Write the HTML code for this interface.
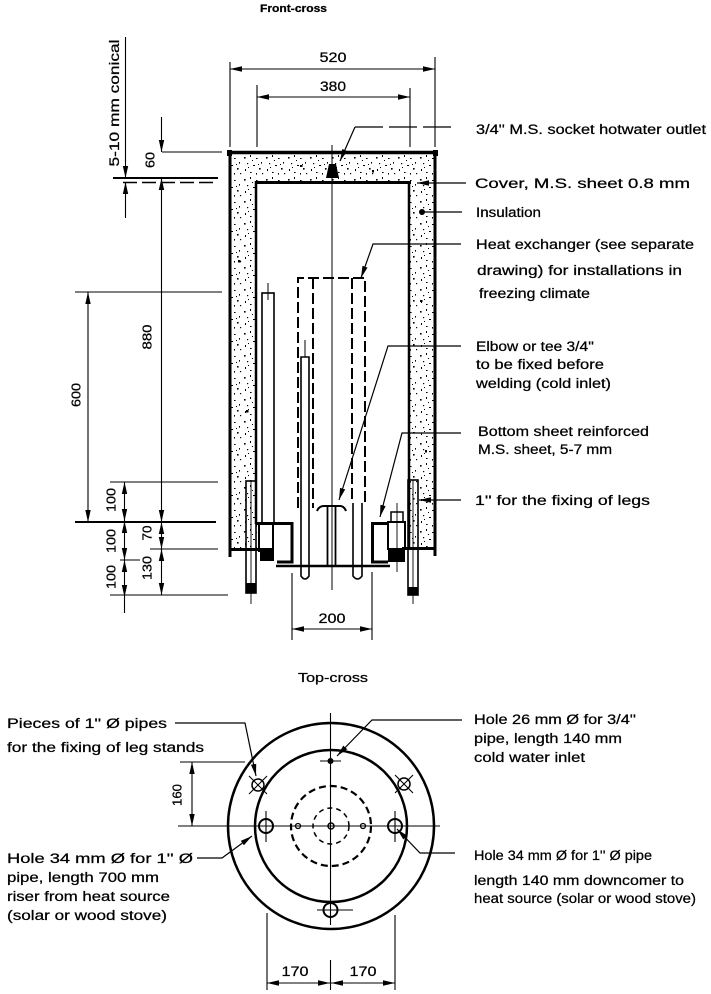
<!DOCTYPE html>
<html><head><meta charset="utf-8">
<style>
html,body{margin:0;padding:0;background:#fff;}
svg{display:block;}
text{font-family:"Liberation Sans",Arial,sans-serif;fill:#000;stroke:#000;stroke-width:0.25;}
</style></head>
<body>
<svg width="711" height="994" viewBox="0 0 711 994" xmlns="http://www.w3.org/2000/svg">
<defs>
<marker id="ar" viewBox="0 0 12 6" markerWidth="12" markerHeight="6" refX="12" refY="3" orient="auto-start-reverse" markerUnits="userSpaceOnUse"><path d="M0,0.3 L12,3 L0,5.7 Z" fill="#000"/></marker>
<pattern id="st" width="22" height="22" patternUnits="userSpaceOnUse">
<rect x="2" y="3" width="1.6" height="1.6"/>
<rect x="8" y="1" width="1" height="2"/>
<rect x="14" y="4" width="1.6" height="1"/>
<rect x="19" y="8" width="1" height="1.6"/>
<rect x="5" y="9" width="1.2" height="1.2"/>
<rect x="11" y="11" width="2" height="1"/>
<rect x="17" y="14" width="1.6" height="1.6"/>
<rect x="3" y="15" width="1" height="2"/>
<rect x="8" y="18" width="1.6" height="1"/>
<rect x="14" y="19" width="1" height="1.6"/>
<rect x="20" y="19" width="1.2" height="1.2"/>
<rect x="10" y="6" width="1" height="1"/>
<rect x="6" y="13" width="1" height="1"/>
<rect x="16" y="10" width="1" height="1"/>
</pattern>
</defs>
<rect width="711" height="994" fill="#fff"/>

<!-- Titles -->
<text x="260" y="12" font-size="11" font-weight="bold" textLength="67" lengthAdjust="spacingAndGlyphs">Front-cross</text>
<text x="298" y="682" font-size="13" textLength="70" lengthAdjust="spacingAndGlyphs">Top-cross</text>

<!-- ===== FRONT VIEW ===== -->
<path d="M230,153 H435 V549 H409 V182 H257 V549 H230 Z" fill="url(#st)"/>
<g>
<rect x="238" y="260" width="2.5" height="2.5"/>
<rect x="246" y="410" width="2.5" height="2.5"/>
<rect x="420" y="300" width="2.5" height="2"/>
<rect x="425" y="450" width="2" height="2.5"/>
<rect x="300" y="165" width="2.5" height="2"/>
<rect x="372" y="170" width="2" height="2.5"/>
</g>

<g stroke="#000" fill="none">
<line x1="227" y1="152.5" x2="438" y2="152.5" stroke-width="3.5"/>
<line x1="230" y1="151" x2="230" y2="557" stroke-width="3"/>
<line x1="435" y1="151" x2="435" y2="556" stroke-width="3"/>
<line x1="255" y1="182.5" x2="411" y2="182.5" stroke-width="3"/>
<line x1="256" y1="181" x2="256" y2="524" stroke-width="2.5"/>
<line x1="409" y1="181" x2="409" y2="549" stroke-width="2.5"/>
<line x1="229" y1="549.5" x2="273" y2="549.5" stroke-width="3"/>
<line x1="402" y1="548.5" x2="436" y2="548.5" stroke-width="3"/>
<polyline points="256,523.5 292,523.5 292,562 277,562" stroke-width="3"/>
<polyline points="388,523.5 372.5,523.5 372.5,562 388,562" stroke-width="3"/>
<line x1="276" y1="566" x2="390" y2="566" stroke-width="2.5"/>

<rect x="262" y="293" width="12" height="230" stroke-width="1.6"/>
<line x1="268" y1="283" x2="268" y2="300" stroke-width="1"/>
<rect x="259" y="523" width="14" height="28" stroke-width="2"/>

<rect x="246" y="481" width="10" height="112" stroke-width="1.6"/>
<line x1="251" y1="481" x2="251" y2="604" stroke-width="0.9"/>
<rect x="408" y="480" width="10" height="115" stroke-width="1.6"/>
<line x1="413" y1="480" x2="413" y2="604" stroke-width="0.9"/>

<rect x="391" y="512" width="12" height="10" stroke-width="1.5"/>
<rect x="388" y="522" width="17" height="27" stroke-width="2"/>
<line x1="397" y1="503" x2="397" y2="572" stroke-width="0.9"/>

<path d="M298,508 V278 H365 V503 M313,278 V508 M352,278 V503" stroke-width="2" stroke-dasharray="11 4"/>
<line x1="332" y1="145" x2="332" y2="590" stroke-width="1"/>
<path d="M317,511 Q319,506 324,506 H340 Q344,506 346,511" stroke-width="2"/>
<line x1="327.5" y1="506" x2="327.5" y2="567" stroke-width="1.8"/>
<line x1="335.5" y1="506" x2="335.5" y2="567" stroke-width="1.8"/>
<path d="M301,357 V576 Q305,582 309,576 V357 Z" stroke-width="1.6"/>
<line x1="305" y1="340" x2="305" y2="357" stroke-width="1"/>
<path d="M353,503 V576 Q357.5,582 362,576 V503" stroke-width="1.6"/>

<line x1="355" y1="127" x2="455" y2="127" stroke-width="1.2" stroke-dasharray="28 6"/>
<line x1="355" y1="127" x2="340" y2="161" stroke-width="1.2" marker-end="url(#ar)"/>
<line x1="466" y1="183" x2="417" y2="183" stroke-width="1.2" marker-end="url(#ar)"/>
<line x1="462" y1="212" x2="422" y2="212" stroke-width="1.2"/>
<polyline points="461,244 373,244 361,278" stroke-width="1.2" marker-end="url(#ar)"/>
<polyline points="461,346 388,346 339,500" stroke-width="1.2" marker-end="url(#ar)"/>
<polyline points="461,433 402,433 380,517" stroke-width="1.2" marker-end="url(#ar)"/>
<line x1="461" y1="500" x2="419" y2="500" stroke-width="1.2" marker-end="url(#ar)"/>

<g stroke-width="1.1">
<line x1="230" y1="69" x2="435" y2="69" marker-start="url(#ar)" marker-end="url(#ar)"/>
<line x1="230" y1="62" x2="230" y2="147"/>
<line x1="435" y1="57" x2="435" y2="147"/>
<line x1="257" y1="97" x2="410" y2="97" marker-start="url(#ar)" marker-end="url(#ar)"/>
<line x1="257" y1="85" x2="257" y2="147"/>
<line x1="410" y1="88" x2="410" y2="147"/>

<line x1="125.5" y1="37" x2="125.5" y2="162"/>
<line x1="125.5" y1="160" x2="125.5" y2="178" marker-end="url(#ar)"/>
<line x1="125.5" y1="182" x2="125.5" y2="218" marker-start="url(#ar)"/>

<line x1="161.5" y1="117" x2="161.5" y2="152" marker-end="url(#ar)"/>
<line x1="161.5" y1="178" x2="161.5" y2="522" marker-start="url(#ar)" marker-end="url(#ar)"/>
<line x1="161.5" y1="522" x2="161.5" y2="549" marker-start="url(#ar)" marker-end="url(#ar)"/>
<line x1="161.5" y1="549" x2="161.5" y2="595" marker-start="url(#ar)" marker-end="url(#ar)"/>

<line x1="88" y1="292" x2="88" y2="522" marker-start="url(#ar)" marker-end="url(#ar)"/>

<line x1="124.5" y1="482" x2="124.5" y2="521" marker-start="url(#ar)" marker-end="url(#ar)"/>
<line x1="124.5" y1="521" x2="124.5" y2="560" marker-start="url(#ar)" marker-end="url(#ar)"/>
<line x1="124.5" y1="560" x2="124.5" y2="597" marker-start="url(#ar)" marker-end="url(#ar)"/>
<line x1="124.5" y1="597" x2="124.5" y2="613"/>

<line x1="162" y1="152" x2="222" y2="152"/>
<line x1="113" y1="178" x2="218" y2="178" stroke-width="2"/>
<line x1="123" y1="182.5" x2="218" y2="182.5" stroke-width="1.5" stroke-dasharray="14 5"/>
<line x1="75" y1="292" x2="222" y2="292"/>
<line x1="110" y1="482" x2="218" y2="482"/>
<line x1="75" y1="522" x2="216" y2="522" stroke-width="2"/>
<line x1="150" y1="549" x2="218" y2="549"/>
<line x1="120" y1="560" x2="140" y2="560"/>
<line x1="110" y1="595" x2="228" y2="595"/>

<line x1="292" y1="629" x2="372" y2="629" marker-start="url(#ar)" marker-end="url(#ar)"/>
<line x1="292" y1="573" x2="292" y2="640"/>
<line x1="372" y1="572" x2="372" y2="640"/>
</g>
</g>

<circle cx="422" cy="212" r="3"/>
<polygon points="326,178 329,164 336,164 339,178"/>
<rect x="260" y="550" width="14" height="11"/>
<rect x="246" y="583" width="10" height="10"/>
<rect x="408" y="587" width="10" height="8"/>
<rect x="388" y="549" width="17" height="13"/>
<rect x="227" y="150" width="5" height="6"/>
<rect x="433" y="150" width="5" height="6"/>

<g font-size="14">
<text x="333" y="62" text-anchor="middle" textLength="27" lengthAdjust="spacingAndGlyphs">520</text>
<text x="333" y="91" text-anchor="middle" textLength="26" lengthAdjust="spacingAndGlyphs">380</text>
<text x="332" y="623" text-anchor="middle" textLength="27" lengthAdjust="spacingAndGlyphs">200</text>
</g>
<g font-size="13">
<text transform="translate(114,103) rotate(-90)" y="5" text-anchor="middle" font-size="14" textLength="127" lengthAdjust="spacingAndGlyphs">5-10  mm  conical</text>
<text transform="translate(150,160) rotate(-90)" y="4.5" text-anchor="middle" textLength="16" lengthAdjust="spacingAndGlyphs">60</text>
<text transform="translate(147,337) rotate(-90)" y="4.5" text-anchor="middle" textLength="25" lengthAdjust="spacingAndGlyphs">880</text>
<text transform="translate(76,395) rotate(-90)" y="4.5" text-anchor="middle" textLength="24" lengthAdjust="spacingAndGlyphs">600</text>
<text transform="translate(111,500) rotate(-90)" y="4.5" text-anchor="middle" textLength="24" lengthAdjust="spacingAndGlyphs">100</text>
<text transform="translate(111,541) rotate(-90)" y="4.5" text-anchor="middle" textLength="24" lengthAdjust="spacingAndGlyphs">100</text>
<text transform="translate(111,577) rotate(-90)" y="4.5" text-anchor="middle" textLength="24" lengthAdjust="spacingAndGlyphs">100</text>
<text transform="translate(147,533) rotate(-90)" y="4.5" text-anchor="middle" textLength="15" lengthAdjust="spacingAndGlyphs">70</text>
<text transform="translate(147,568) rotate(-90)" y="4.5" text-anchor="middle" textLength="24" lengthAdjust="spacingAndGlyphs">130</text>
<text transform="translate(177,795) rotate(-90)" y="4.5" text-anchor="middle" textLength="22" lengthAdjust="spacingAndGlyphs">160</text>
</g>

<g font-size="13.5">
<text x="476" y="134" textLength="230" lengthAdjust="spacingAndGlyphs">3/4'' M.S. socket hotwater outlet</text>
<text x="475" y="188" textLength="215" lengthAdjust="spacingAndGlyphs">Cover, M.S. sheet 0.8 mm</text>
<text x="476" y="217" textLength="65" lengthAdjust="spacingAndGlyphs">Insulation</text>
<text x="476" y="249" textLength="218" lengthAdjust="spacingAndGlyphs">Heat exchanger (see  separate</text>
<text x="477" y="275" textLength="205" lengthAdjust="spacingAndGlyphs">drawing) for installations in</text>
<text x="479" y="298" textLength="111" lengthAdjust="spacingAndGlyphs">freezing climate</text>
<text x="476" y="351" textLength="118" lengthAdjust="spacingAndGlyphs">Elbow or tee 3/4''</text>
<text x="476" y="369" textLength="128" lengthAdjust="spacingAndGlyphs">to be fixed before</text>
<text x="476" y="388" textLength="135" lengthAdjust="spacingAndGlyphs">welding (cold inlet)</text>
<text x="478" y="436" textLength="171" lengthAdjust="spacingAndGlyphs">Bottom sheet reinforced</text>
<text x="478" y="454" textLength="134" lengthAdjust="spacingAndGlyphs">M.S. sheet, 5-7 mm</text>
<text x="475" y="505" textLength="175" lengthAdjust="spacingAndGlyphs">1''  for  the  fixing  of  legs</text>

<text x="474" y="724" textLength="162" lengthAdjust="spacingAndGlyphs">Hole  26  mm  Ø  for  3/4''</text>
<text x="474" y="743" textLength="148" lengthAdjust="spacingAndGlyphs">pipe, length  140  mm</text>
<text x="474" y="762" textLength="111" lengthAdjust="spacingAndGlyphs">cold  water  inlet</text>
<text x="474" y="860" textLength="178" lengthAdjust="spacingAndGlyphs">Hole 34 mm Ø for 1'' Ø pipe</text>
<text x="474" y="885" textLength="210" lengthAdjust="spacingAndGlyphs">length 140 mm downcomer to</text>
<text x="474" y="903" textLength="222" lengthAdjust="spacingAndGlyphs">heat source (solar or wood stove)</text>

<text x="7" y="728" textLength="160" lengthAdjust="spacingAndGlyphs">Pieces  of  1''  Ø  pipes</text>
<text x="7" y="752" textLength="197" lengthAdjust="spacingAndGlyphs">for  the  fixing  of  leg  stands</text>
<text x="7" y="863" textLength="186" lengthAdjust="spacingAndGlyphs">Hole  34  mm  Ø  for  1''  Ø</text>
<text x="7" y="882" textLength="152" lengthAdjust="spacingAndGlyphs">pipe,  length  700  mm</text>
<text x="7" y="901" textLength="163" lengthAdjust="spacingAndGlyphs">riser  from  heat  source</text>
<text x="7" y="920" textLength="160" lengthAdjust="spacingAndGlyphs">(solar  or  wood  stove)</text>

<text x="295" y="976" text-anchor="middle" font-size="14" textLength="27" lengthAdjust="spacingAndGlyphs">170</text>
<text x="363" y="976" text-anchor="middle" font-size="14" textLength="27" lengthAdjust="spacingAndGlyphs">170</text>
</g>

<!-- ===== TOP VIEW ===== -->
<g stroke="#000" fill="none">
<circle cx="331" cy="826" r="103" stroke-width="2.5"/>
<circle cx="331" cy="826" r="76" stroke-width="2.5"/>
<circle cx="331" cy="826" r="40" stroke-width="2.2" stroke-dasharray="7 4"/>
<circle cx="331" cy="826" r="18" stroke-width="1.5" stroke-dasharray="5 4"/>
<circle cx="331" cy="826" r="3" stroke-width="1.5"/>
<line x1="178" y1="826" x2="440" y2="826" stroke-width="1.1"/>
<line x1="330.5" y1="713" x2="330.5" y2="925" stroke-width="1.1"/>
<line x1="330.5" y1="960" x2="330.5" y2="990" stroke-width="1.1"/>

<circle cx="266" cy="826" r="7" stroke-width="2"/>
<line x1="266" y1="811" x2="266" y2="842" stroke-width="1.1"/>
<circle cx="395" cy="826" r="7" stroke-width="2"/>
<line x1="395" y1="811" x2="395" y2="842" stroke-width="1.1"/>
<circle cx="330.5" cy="910" r="7" stroke-width="2"/>
<line x1="317" y1="910" x2="353" y2="910" stroke-width="1.1"/>
<line x1="320" y1="761" x2="341" y2="761" stroke-width="1.1"/>
<circle cx="298" cy="826" r="2.5" stroke-width="1.3"/>
<circle cx="363" cy="826" r="2.5" stroke-width="1.3"/>

<circle cx="258" cy="785" r="6" stroke-width="1.5"/>
<line x1="249" y1="776" x2="267" y2="794" stroke-width="1.1"/>
<line x1="267" y1="776" x2="249" y2="794" stroke-width="1.1"/>
<circle cx="404" cy="784" r="6" stroke-width="1.5"/>
<line x1="395" y1="775" x2="413" y2="793" stroke-width="1.1"/>
<line x1="413" y1="775" x2="395" y2="793" stroke-width="1.1"/>

<polyline points="462,720 372,720 337,756" stroke-width="1.2" marker-end="url(#ar)"/>
<polyline points="455,853 420,853 397,829" stroke-width="1.2" marker-end="url(#ar)"/>
<polyline points="197,858 222,858 252,836" stroke-width="1.2" marker-end="url(#ar)"/>
<polyline points="175,723 245,723 256,776" stroke-width="1.2" marker-end="url(#ar)"/>

<g stroke-width="1.1">
<line x1="192" y1="762" x2="192" y2="826" marker-start="url(#ar)" marker-end="url(#ar)"/>
<line x1="180" y1="762" x2="245" y2="762"/>
<line x1="267" y1="983" x2="330" y2="983" marker-start="url(#ar)" marker-end="url(#ar)"/>
<line x1="331" y1="983" x2="395" y2="983" marker-start="url(#ar)" marker-end="url(#ar)"/>
<line x1="267" y1="913" x2="267" y2="990"/>
<line x1="395" y1="915" x2="395" y2="990"/>
</g>
</g>
<circle cx="330.5" cy="761" r="3"/>
</svg>
</body></html>
